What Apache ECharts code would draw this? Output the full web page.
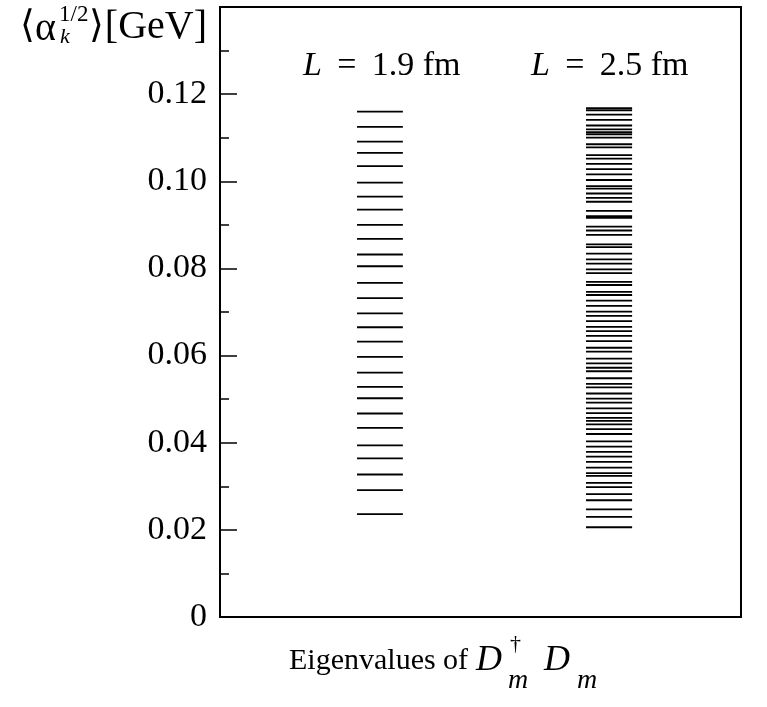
<!DOCTYPE html>
<html>
<head>
<meta charset="utf-8">
<script src="https://cdn.jsdelivr.net/npm/echarts@6/dist/echarts.min.js"></script>
<style>
  html, body { margin: 0; padding: 0; background: #fff; }
  #chart { width: 767px; height: 707px; }
</style>
</head>
<body>
<div id="chart"></div>
<script>
// eigenvalues <alpha_k^{1/2}> [GeV]
const eigenL19 = [
  0.1160, 0.1125, 0.1091, 0.1065, 0.1035, 0.0997, 0.0965, 0.0935, 0.0900, 0.0868,
  0.0832, 0.0805, 0.0767, 0.0732, 0.0697, 0.0665, 0.0632, 0.0597, 0.0561, 0.0528,
  0.0502, 0.0467, 0.0434, 0.0394, 0.0364, 0.0327, 0.0291, 0.0236
]
const eigenL25 = [
  0.1168, 0.1163, 0.1153, 0.1141, 0.1128, 0.1119, 0.1113, 0.1108, 0.1100, 0.1085,
  0.1078, 0.1060, 0.1052, 0.1040, 0.1028, 0.1016, 0.1003, 0.0989, 0.0983, 0.0972,
  0.0962, 0.0953, 0.0932, 0.0920, 0.0916, 0.0896, 0.0887, 0.0877, 0.0855, 0.0849,
  0.0834, 0.0821, 0.0811, 0.0798, 0.0789, 0.0769, 0.0762, 0.0746, 0.0739, 0.0726,
  0.0714, 0.0701, 0.0691, 0.0679, 0.0666, 0.0656, 0.0645, 0.0633, 0.0618, 0.0609,
  0.0593, 0.0582, 0.0572, 0.0564, 0.0548, 0.0535, 0.0527, 0.0513, 0.0501, 0.0492,
  0.0479, 0.0468, 0.0457, 0.0450, 0.0442, 0.0431, 0.0420, 0.0403, 0.0391, 0.0379,
  0.0368, 0.0356, 0.0343, 0.0330, 0.0324, 0.0308, 0.0298, 0.0282, 0.0268, 0.0247,
  0.0230, 0.0206
]
const columnLabels = ['1.9 fm', '2.5 fm']
const yTicks = { min: 0, max: 0.14, interval: 0.02 }

const SERIF = '"Liberation Serif", "DejaVu Serif", serif'

// horizontal dash for each eigenvalue, spanning [x0, x1] of the hidden x axis
function dashRenderer (x0, x1) {
  return function (params, api) {
    const a = api.coord([x0, api.value(0)])
    const b = api.coord([x1, api.value(0)])
    return {
      type: 'line',
      shape: { x1: a[0], y1: a[1], x2: b[0], y2: b[1] },
      style: { stroke: '#000', lineWidth: 1.8 }
    }
  }
}

function txt (text, x, y, size, extra) {
  return {
    type: 'text',
    x: x,
    y: y,
    style: Object.assign({
      text: text,
      font: size + 'px ' + SERIF,
      fill: '#000',
      verticalAlign: 'middle'
    }, extra || {})
  }
}

const italic34 = { i: { font: 'italic 34px ' + SERIF } }

const chart = echarts.init(document.getElementById('chart'))
chart.setOption({
  animation: false,
  grid: {
    left: 220,
    right: 26,
    top: 7,
    bottom: 90,
    show: true,
    borderColor: '#000',
    borderWidth: 2,
    backgroundColor: 'transparent'
  },
  xAxis: {
    type: 'value',
    min: 0,
    max: 1,
    show: false
  },
  yAxis: {
    type: 'value',
    min: yTicks.min,
    max: yTicks.max,
    interval: yTicks.interval,
    axisLine: { show: true, lineStyle: { color: '#000', width: 2 } },
    axisTick: { show: true, inside: true, length: 17, lineStyle: { color: '#000', width: 1.5 } },
    minorTick: { show: true, splitNumber: 2, length: 9, lineStyle: { color: '#000', width: 1.5 } },
    splitLine: { show: false },
    axisLabel: {
      margin: 13,
      color: '#000',
      fontFamily: SERIF,
      fontSize: 34,
      formatter: function (v) {
        if (v === 0) return '0'
        if (v > 0.13) return ''
        return v.toFixed(2)
      }
    }
  },
  series: [
    {
      name: 'L = ' + columnLabels[0],
      type: 'custom',
      renderItem: dashRenderer(0.263, 0.351),
      dimensions: ['value'],
      encode: { y: 'value' },
      data: eigenL19.map(v => [v])
    },
    {
      name: 'L = ' + columnLabels[1],
      type: 'custom',
      renderItem: dashRenderer(0.7025, 0.791),
      dimensions: ['value'],
      encode: { y: 'value' },
      data: eigenL25.map(v => [v])
    }
  ],
  graphic: [
    // column labels
    txt('{i|L}\u2009 = \u2009' + columnLabels[0], 303, 66, 34, { rich: italic34 }),
    txt('{i|L}\u2009 = \u2009' + columnLabels[1], 531, 66, 34, { rich: italic34 }),
    // y axis name  <alpha_k^{1/2}>[GeV]
    txt('\u27E8', 20, 27, 38),
    txt('\u03B1', 35, 29, 40),
    txt('1/2', 59, 15, 23),
    txt('k', 60, 37, 22, { font: 'italic 22px ' + SERIF }),
    txt('\u27E9', 89, 27, 38),
    txt('[GeV]', 207, 27, 40, { align: 'right' }),
    // x axis name  Eigenvalues of D^dagger_m D_m
    txt('Eigenvalues of', 289, 661, 30),
    txt('D', 476, 661, 36, { font: 'italic 36px ' + SERIF }),
    txt('\u2020', 510, 644, 22),
    txt('m', 508, 681, 28, { font: 'italic 28px ' + SERIF }),
    txt('D', 544, 661, 36, { font: 'italic 36px ' + SERIF }),
    txt('m', 577, 681, 28, { font: 'italic 28px ' + SERIF })
  ]
})
</script>
</body>
</html>
